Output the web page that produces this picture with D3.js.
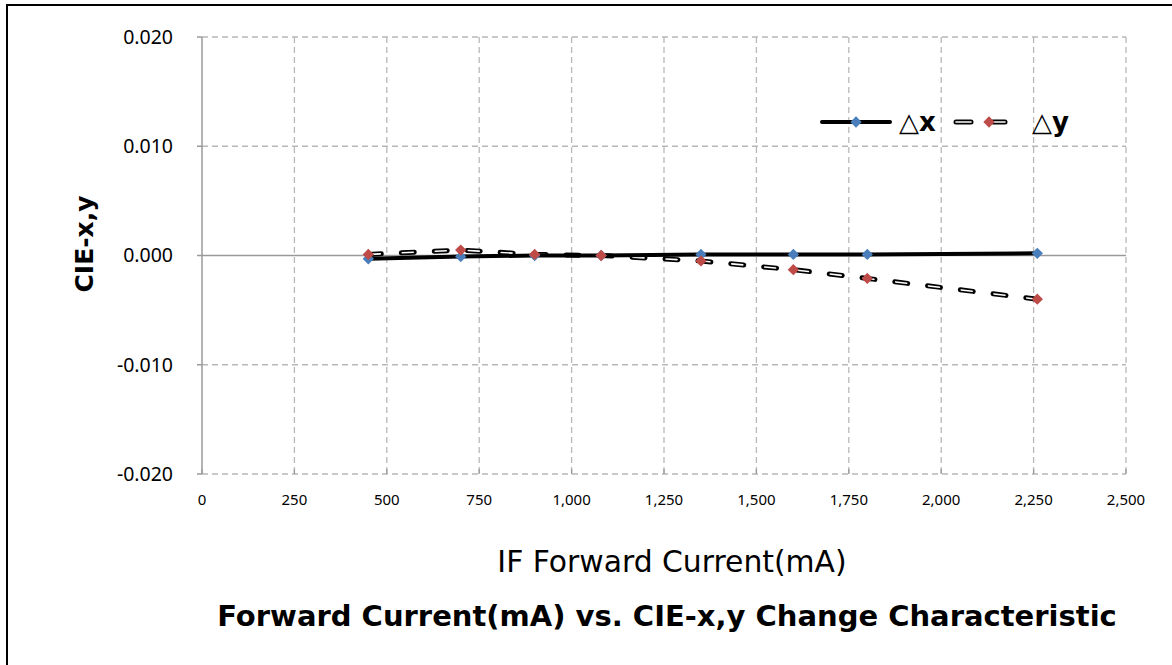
<!DOCTYPE html>
<html>
<head>
<meta charset="utf-8">
<script src="https://cdn.jsdelivr.net/npm/d3@7"></script>
<style>
  html, body { margin: 0; padding: 0; background: #fff; }
  svg { display: block; }
  .dv { font-family: "DejaVu Sans", Verdana, sans-serif; }
  .tk { font-family: "Noto Sans", "Open Sans", sans-serif; }
</style>
</head>
<body>
<svg id="chart" width="1172" height="665"></svg>
<script>
// ---- data ----
const currents = [450, 700, 900, 1080, 1350, 1600, 1800, 2260];
const deltaX = [-0.0003, -0.0001, 0.0000, 0.0000, 0.0001, 0.0001, 0.0001, 0.0002];
const deltaY = [0.0001, 0.0005, 0.0001, 0.0000, -0.0005, -0.0013, -0.0021, -0.0040];
const xTicks = [0, 250, 500, 750, 1000, 1250, 1500, 1750, 2000, 2250, 2500];
const yTicks = [-0.02, -0.01, 0, 0.01, 0.02];
const seriesNames = ["\u25B3x", "\u25B3y"];
const chartTitle = "Forward Current(mA) vs. CIE-x,y Change Characteristic";
const xTitle = "IF Forward Current(mA)";
const yTitle = "CIE-x,y";

const svg = d3.select("#chart");
const L = 202, R = 1126, T = 37, B = 474;
const x = d3.scaleLinear().domain([0, 2500]).range([L, R]);
const y = d3.scaleLinear().domain([-0.02, 0.02]).range([B, T]);

// outer frame (top + left edges visible)
svg.append("path").attr("d", `M7,670 L7,5 L1180,5`)
  .attr("fill", "none").attr("stroke", "#000").attr("stroke-width", 2);

const gridColor = "#b8b8b8";
svg.append("g").selectAll("line").data(xTicks.filter(d => d > 0)).join("line")
  .attr("x1", d => x(d)).attr("x2", d => x(d)).attr("y1", T).attr("y2", B)
  .attr("stroke", gridColor).attr("stroke-width", 1.3).attr("stroke-dasharray", "6,4");
svg.append("g").selectAll("line").data(yTicks.filter(d => d !== 0)).join("line")
  .attr("x1", L).attr("x2", R).attr("y1", d => y(d)).attr("y2", d => y(d))
  .attr("stroke", gridColor).attr("stroke-width", 1.3).attr("stroke-dasharray", "6,4");

svg.append("line").attr("x1", L).attr("x2", R).attr("y1", y(0)).attr("y2", y(0))
  .attr("stroke", "#9a9a9a").attr("stroke-width", 1.5);
svg.append("line").attr("x1", L).attr("x2", L).attr("y1", T).attr("y2", B)
  .attr("stroke", "#9a9a9a").attr("stroke-width", 1.5);
svg.append("g").selectAll("line").data(yTicks).join("line")
  .attr("x1", L - 5).attr("x2", L).attr("y1", d => y(d)).attr("y2", d => y(d))
  .attr("stroke", "#9a9a9a").attr("stroke-width", 1.5);
svg.append("g").selectAll("line").data(xTicks).join("line")
  .attr("x1", d => x(d)).attr("x2", d => x(d)).attr("y1", B - 5).attr("y2", B)
  .attr("stroke", "#9a9a9a").attr("stroke-width", 1.3);

// tick labels
svg.append("g").selectAll("text").data(yTicks).join("text")
  .attr("class", "tk")
  .attr("x", 173).attr("y", d => y(d)).attr("dy", "0.35em")
  .attr("text-anchor", "end").attr("font-size", 19.5)
  .attr("fill", "#000").text(d => d3.format(".3f")(d).replace("\u2212", "-"));
svg.append("g").selectAll("text").data(xTicks).join("text")
  .attr("class", "tk")
  .attr("x", d => x(d)).attr("y", 505)
  .attr("text-anchor", "middle").attr("font-size", 15)
  .attr("fill", "#000").text(d => d3.format(",")(d));

// axis titles
svg.append("text").attr("class", "dv").attr("transform", `translate(93,244) rotate(-90)`)
  .attr("text-anchor", "middle")
  .attr("font-weight", "bold").attr("font-size", 25).text(yTitle);
svg.append("text").attr("class", "dv").attr("x", 672).attr("y", 572)
  .attr("text-anchor", "middle")
  .attr("font-size", 29.8).text(xTitle);
svg.append("text").attr("class", "dv").attr("x", 667).attr("y", 626)
  .attr("text-anchor", "middle")
  .attr("font-weight", "bold").attr("font-size", 29).text(chartTitle);

// series lines
const pts = (vals) => currents.map((c, i) => [c, vals[i]]);
const line = d3.line().x(d => x(d[0])).y(d => y(d[1]));

svg.append("path").attr("d", line(pts(deltaY))).attr("fill", "none")
  .attr("stroke", "#000").attr("stroke-width", 5).attr("stroke-linecap", "round")
  .attr("stroke-dasharray", "13,20");
svg.append("path").attr("d", line(pts(deltaY))).attr("fill", "none")
  .attr("stroke", "#fff").attr("stroke-width", 1.6).attr("stroke-linecap", "round")
  .attr("stroke-dasharray", "11,22").attr("stroke-dashoffset", -1);

svg.append("path").attr("d", line(pts(deltaX))).attr("fill", "none")
  .attr("stroke", "#000").attr("stroke-width", 4).attr("stroke-linejoin", "round");

// markers
const diamond = d3.symbol().type(d3.symbolSquare).size(64);
const blue = "#4a7ebb", red = "#be4b48";
svg.append("g").selectAll("path").data(pts(deltaX)).join("path")
  .attr("d", diamond).attr("fill", blue)
  .attr("transform", d => `translate(${x(d[0])},${y(d[1])}) rotate(45)`);
svg.append("g").selectAll("path").data(pts(deltaY)).join("path")
  .attr("d", diamond).attr("fill", red)
  .attr("transform", d => `translate(${x(d[0])},${y(d[1])}) rotate(45)`);

// legend
const lg = svg.append("g");
const ly = 122;
lg.append("line").attr("x1", 822).attr("x2", 890).attr("y1", ly).attr("y2", ly)
  .attr("stroke", "#000").attr("stroke-width", 4).attr("stroke-linecap", "round");
lg.append("path").attr("d", diamond).attr("fill", blue)
  .attr("transform", `translate(856,${ly}) rotate(45)`);
lg.append("text").attr("class", "dv").attr("x", 899).attr("y", 131)
  .attr("font-weight", "bold").attr("font-size", 26).text(seriesNames[0]);
[[956, 971], [993, 1005]].forEach(([a, b]) => {
  lg.append("line").attr("x1", a).attr("x2", b).attr("y1", ly).attr("y2", ly)
    .attr("stroke", "#000").attr("stroke-width", 5).attr("stroke-linecap", "round");
  lg.append("line").attr("x1", a).attr("x2", b).attr("y1", ly).attr("y2", ly)
    .attr("stroke", "#fff").attr("stroke-width", 1.6).attr("stroke-linecap", "round");
});
lg.append("path").attr("d", diamond).attr("fill", red)
  .attr("transform", `translate(989,${ly}) rotate(45)`);
lg.append("text").attr("class", "dv").attr("x", 1032).attr("y", 131)
  .attr("font-weight", "bold").attr("font-size", 26).text(seriesNames[1]);
</script>
</body>
</html>
